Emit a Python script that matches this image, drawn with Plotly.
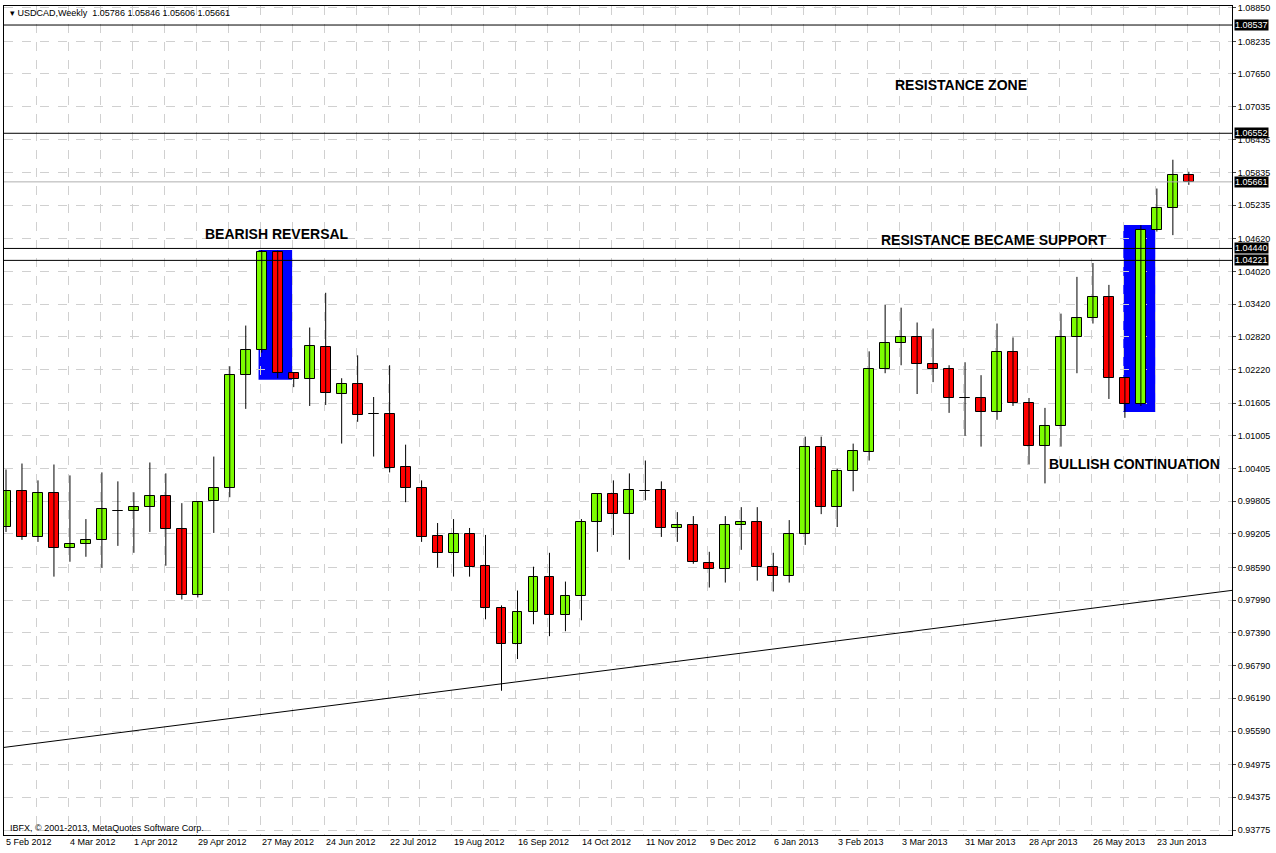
import plotly.graph_objects as go

opens = [0.99332,0.99992,0.99150,0.99951,0.98950,0.99022,0.99095,0.99623,0.99623,0.99696,
         0.99896,0.99295,0.98094,0.99805,1.00042,1.02116,1.02571,1.04373,1.02152,1.02043,
         1.02626,1.01771,1.01953,1.01407,1.01407,1.00424,1.00042,0.99168,0.98859,0.99204,
         0.98622,0.97839,0.97184,0.97766,0.98422,0.97712,0.98058,0.99423,0.99932,0.99568,
         1.00000,1.00005,0.99314,0.99368,0.98677,0.98568,0.99368,0.99423,0.98604,0.98440,
         0.99204,1.00806,0.99696,1.00351,1.00715,1.02226,1.02699,1.02808,1.02316,1.02226,
         1.01698,1.01698,1.01443,1.02535,1.01607,1.00824,1.01189,1.02808,1.03172,1.03554,
         1.02061,1.01589,1.04775,1.05175,1.05786]
highs = [1.00387,1.00496,1.00187,1.00478,1.00278,0.99477,1.00333,1.00169,0.99969,1.00515,
         1.00315,0.99769,0.99800,1.00624,1.02280,1.03026,1.04410,1.04400,1.02170,1.02990,
         1.03627,1.02060,1.02480,1.01716,1.02298,1.00842,1.00187,0.99405,0.99477,0.99314,
         0.99186,0.97894,0.98167,0.98604,0.98859,0.98331,0.99477,0.99940,1.00187,1.00315,
         1.00551,1.00169,0.99605,0.99532,0.98877,0.99532,0.99696,0.99696,0.98859,0.99459,
         1.00988,1.00988,1.00400,1.00861,1.02553,1.03409,1.03354,1.03082,1.02972,1.02298,
         1.02353,1.02116,1.03063,1.02808,1.01698,1.01516,1.03245,1.03919,1.04173,1.03772,
         1.02080,1.04866,1.05539,1.06067,1.05846]
lows = [0.99241,0.99096,0.99059,0.98422,0.98695,0.98786,0.98586,0.98986,0.98859,0.99241,
        0.98622,0.98003,0.98040,0.99223,0.99878,1.01498,1.02530,1.02060,1.01897,1.01552,
        1.01570,1.00862,1.01261,1.00624,1.00333,0.99787,0.99059,0.98586,0.98422,0.98422,
        0.97639,0.96329,0.96911,0.97548,0.97330,0.97421,0.97621,0.98877,0.99186,0.98731,
        0.99823,0.99150,0.99059,0.98658,0.98222,0.98313,0.98913,0.98349,0.98149,0.98313,
        0.99004,0.99568,0.99332,0.99987,1.00551,1.02152,1.02298,1.01771,1.01989,1.01425,
        1.01005,1.00806,1.01298,1.01552,1.00478,1.00132,1.00806,1.02152,1.03063,1.01680,
        1.01334,1.01550,1.04750,1.04684,1.05606]
closes = [0.99987,0.99150,0.99951,0.98950,0.99022,0.99095,0.99659,0.99630,0.99696,0.99896,
          0.99295,0.98094,0.99787,1.00042,1.02116,1.02571,1.04373,1.02152,1.02043,1.02644,
          1.01789,1.01953,1.01389,1.01400,1.00406,1.00042,0.99150,0.98859,0.99204,0.98604,
          0.97839,0.97184,0.97766,0.98422,0.97712,0.98058,0.99423,0.99932,0.99568,1.00005,
          0.99987,0.99314,0.99368,0.98695,0.98568,0.99368,0.99423,0.98604,0.98440,0.99204,
          1.00806,0.99696,1.00351,1.00733,1.02226,1.02699,1.02808,1.02316,1.02226,1.01698,
          1.01690,1.01443,1.02535,1.01607,1.00824,1.01189,1.02808,1.03172,1.03554,1.02061,
          1.01589,1.04775,1.05175,1.05780,1.05661]
weeks = list(range(len(opens)))

date_labels = ["5 Feb 2012","4 Mar 2012","1 Apr 2012","29 Apr 2012","27 May 2012","24 Jun 2012",
               "22 Jul 2012","19 Aug 2012","16 Sep 2012","14 Oct 2012","11 Nov 2012","9 Dec 2012",
               "6 Jan 2013","3 Feb 2013","3 Mar 2013","31 Mar 2013","28 Apr 2013","26 May 2013",
               "23 Jun 2013"]
price_ticks = [1.08850,1.08235,1.07650,1.07035,1.06435,1.05835,1.05235,1.04620,1.04020,1.03420,
               1.02820,1.02220,1.01605,1.01005,1.00405,0.99805,0.99205,0.98590,0.97990,0.97390,
               0.96790,0.96190,0.95590,0.94975,0.94375,0.93775]
level_lines = [1.08537,1.06552,1.04440,1.04221]
last_price = 1.05661
trend_x = [-0.125, 76.7]
trend_y = [0.9529, 0.9817]
boxes = [(15.8,17.9,1.0203,1.0441),(69.9,71.9,1.0144,1.0487)]
notes = [("RESISTANCE ZONE",55.5,1.0744),("BEARISH REVERSAL",12.3,1.0470),
         ("RESISTANCE BECAME SUPPORT",54.6,1.0460),("BULLISH CONTINUATION",65.1,1.0049)]

X0, X1 = -0.125, 76.7
Y0, Y1 = 0.93684, 1.08886

fig = go.Figure()
for (a,b,lo,hi) in boxes:
    fig.add_shape(type="rect", x0=a, x1=b, y0=lo, y1=hi, fillcolor="#0000ff", line_width=0, layer="below")
fig.add_trace(go.Scatter(x=trend_x, y=trend_y, mode="lines", line=dict(color="black", width=1), hoverinfo="skip"))

wx, wy = [], []
for i, h, l in zip(weeks, highs, lows):
    wx += [i, i, None]; wy += [l, h, None]
fig.add_trace(go.Scatter(x=wx, y=wy, mode="lines", line=dict(color="black", width=1), hoverinfo="skip"))
base = [min(o, c) for o, c in zip(opens, closes)]
size = [max(abs(c - o), 0.00002) for o, c in zip(opens, closes)]
cols = ["#7cfc00" if c > o else ("#ff0000" if c < o else "black") for o, c in zip(opens, closes)]
fig.add_trace(go.Bar(x=weeks, y=size, base=base, width=0.62, marker=dict(color=cols, line=dict(color="black", width=1))))

for v in level_lines:
    fig.add_shape(type="line", xref="paper", x0=0, x1=1, y0=v, y1=v, line=dict(color="black", width=1))
    fig.add_annotation(xref="paper", x=1.002, y=v, text=f"{v:.5f}", showarrow=False, xanchor="left",
                       bgcolor="black", font=dict(color="white", size=9, family="Arial"), borderpad=0)
fig.add_shape(type="line", xref="paper", x0=0, x1=1, y0=last_price, y1=last_price, line=dict(color="#b0b0b0", width=1))
fig.add_annotation(xref="paper", x=1.002, y=last_price, text=f"{last_price:.5f}", showarrow=False, xanchor="left",
                   bgcolor="black", font=dict(color="white", size=9, family="Arial"), borderpad=0)

for t, x, y in notes:
    fig.add_annotation(x=x, y=y, text=f"<b>{t}</b>", showarrow=False, xanchor="left",
                       font=dict(size=14, family="Arial", color="black"))
for k, lab in enumerate(date_labels):
    fig.add_annotation(x=4*k - 0.1, xref="x", y=0, yref="paper", yanchor="top", xanchor="left",
                       text=lab, showarrow=False, font=dict(size=9, family="Arial", color="black"))

fig.add_annotation(xref="paper", yref="paper", x=0.003, y=1, xanchor="left", yanchor="top", showarrow=False,
                   text="▾ USDCAD,Weekly  1.05786 1.05846 1.05606 1.05661",
                   font=dict(size=9, family="Arial", color="black"))
fig.add_annotation(xref="paper", yref="paper", x=0.003, y=0, xanchor="left", yanchor="bottom", showarrow=False,
                   text="IBFX, © 2001-2013, MetaQuotes Software Corp.",
                   font=dict(size=9, family="Arial", color="black"))

fig.update_layout(
    width=1276, height=853, margin=dict(l=3, r=44, t=3, b=18),
    paper_bgcolor="white", plot_bgcolor="white", showlegend=False, bargap=0,
    xaxis=dict(range=[X0, X1], showticklabels=False, showgrid=False,
               zeroline=False, showline=True, linecolor="black", mirror=True, ticks="",
               minor=dict(tickvals=[1.9 + 2*k for k in range(38)], showgrid=True,
                          gridcolor="#d0d0d0", griddash="dash", gridwidth=1)),
    yaxis=dict(range=[Y0, Y1], side="right", tickvals=price_ticks, ticktext=[f"{v:.5f}" for v in price_ticks],
               showgrid=True, gridcolor="#d0d0d0", griddash="dash", zeroline=False,
               showline=True, linecolor="black", mirror=True, ticks="outside", ticklen=3,
               tickfont=dict(size=9, family="Arial", color="black")),
)
fig.write_html("out.html", config={"displayModeBar": False},
               post_script="document.body.style.margin='0';document.body.style.overflow='hidden';")
